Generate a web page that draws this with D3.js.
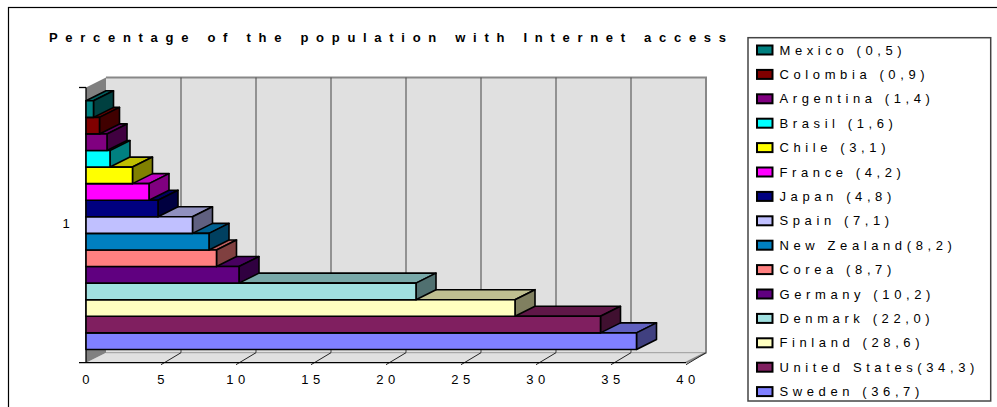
<!DOCTYPE html>
<html>
<head>
<meta charset="utf-8">
<script src="https://cdn.jsdelivr.net/npm/d3@7"></script>
<style>
  html, body { margin: 0; padding: 0; background: #fff; }
  svg { display: block; }
  text { font-family: "Liberation Sans", Arial, sans-serif; fill: #000; }
</style>
</head>
<body>
<svg id="chart" width="997" height="407"></svg>
<script>
// Share of population with Internet access, by country (top to bottom)
const countries = ["Mexico", "Colombia", "Argentina", "Brasil", "Chile", "France", "Japan",
  "Spain", "New Zealand", "Corea", "Germany", "Denmark", "Finland", "United States", "Sweden"];
const values = [0.5, 0.9, 1.4, 1.6, 3.1, 4.2, 4.8, 7.1, 8.2, 8.7, 10.2, 22.0, 28.6, 34.3, 36.7];
const colors = ["#008080", "#800000", "#800080", "#00ffff", "#ffff00", "#ff00ff", "#000080",
  "#c0c0ff", "#0080c0", "#ff8080", "#600080", "#a0e0e0", "#ffffc0", "#801f60", "#8080ff"];
const valueTicks = [0, 5, 10, 15, 20, 25, 30, 35, 40];
const categoryLabel = "1";
const title = "Percentage of the population with Internet access";

const svg = d3.select("#chart");

// plot frame (front plane) and 3D depth offset
const pLeft = 86, pRight = 686, pTop = 87.5, pBottom = 362.7;
const DX = 20, DY = -10;

const x = d3.scaleLinear().domain([0, 40]).range([pLeft, pRight]);
const y = d3.scaleBand().domain(countries).range([pTop, pBottom]).paddingInner(0).paddingOuter(0.8);

const shade = (c, k) => { const r = d3.rgb(c); return d3.rgb(r.r * k, r.g * k, r.b * k).formatHex(); };
const pts = a => a.map(p => p.join(",")).join(" ");

// outer frame
svg.append("rect").attr("x", 8.5).attr("y", 7.5).attr("width", 1000).attr("height", 420)
  .attr("fill", "#fff").attr("stroke", "#000").attr("stroke-width", 1.2);

// title
svg.append("text").attr("x", 49).attr("y", 41.7)
  .attr("font-size", 13).attr("font-weight", "bold")
  .attr("textLength", 677).attr("lengthAdjust", "spacing")
  .text(title);

// walls and floor
const g = svg.append("g");
g.append("polygon").attr("points", pts([[pLeft + DX, pTop + DY], [pRight + DX, pTop + DY], [pRight + DX, pBottom + DY], [pLeft + DX, pBottom + DY]]))
  .attr("fill", "#e0e0e0");
g.append("polygon").attr("points", pts([[pLeft, pBottom], [pRight, pBottom], [pRight + DX, pBottom + DY], [pLeft + DX, pBottom + DY]]))
  .attr("fill", "#e0e0e0");
g.append("polygon").attr("points", pts([[pLeft, pTop], [pLeft + DX, pTop + DY], [pLeft + DX, pBottom + DY], [pLeft, pBottom]]))
  .attr("fill", "#808080");

// wall edges
g.append("polyline").attr("points", pts([[pLeft + DX, pTop + DY], [pRight + DX, pTop + DY], [pRight + DX, pBottom + DY], [pRight, pBottom]]))
  .attr("fill", "none").attr("stroke", "#888").attr("stroke-width", 2);
g.append("line").attr("x1", pLeft + DX).attr("x2", pRight + DX).attr("y1", pBottom + DY).attr("y2", pBottom + DY)
  .attr("stroke", "#999").attr("stroke-width", 1);

// gridlines: back wall verticals and floor diagonals
const inner = valueTicks.filter(v => v > 0 && v < 40);
g.selectAll(".gv").data(inner).join("line")
  .attr("x1", d => x(d) + DX).attr("x2", d => x(d) + DX)
  .attr("y1", pTop + DY).attr("y2", pBottom + DY)
  .attr("stroke", "#444").attr("stroke-width", 1);
g.selectAll(".gf").data(valueTicks.filter(v => v > 0)).join("line")
  .attr("x1", d => x(d)).attr("y1", pBottom + 2)
  .attr("x2", d => x(d) + DX).attr("y2", pBottom + DY)
  .attr("stroke", "#222").attr("stroke-width", 1);

// axes
g.append("line").attr("x1", pLeft - 7).attr("x2", pRight).attr("y1", pBottom).attr("y2", pBottom)
  .attr("stroke", "#000").attr("stroke-width", 1.3);
g.append("line").attr("x1", pLeft).attr("x2", pLeft).attr("y1", pTop).attr("y2", pBottom)
  .attr("stroke", "#000").attr("stroke-width", 1.3);
g.append("line").attr("x1", pLeft - 7).attr("x2", pLeft).attr("y1", pTop).attr("y2", pTop)
  .attr("stroke", "#000").attr("stroke-width", 1.3);

// bars, drawn bottom-up so each upper bar hides the lower bar's top face
const rows = countries.map((c, i) => ({ c, v: values[i], col: colors[i] })).reverse();
const bars = svg.append("g").selectAll("g").data(rows).join("g");
const h = y.bandwidth();
bars.append("polygon")
  .attr("points", d => { const y0 = y(d.c), x1 = x(d.v);
    return pts([[pLeft, y0], [x1, y0], [x1 + DX, y0 + DY], [pLeft + DX, y0 + DY]]); })
  .attr("fill", d => shade(d.col, 0.75));
bars.append("polygon")
  .attr("points", d => { const y0 = y(d.c), x1 = x(d.v);
    return pts([[x1, y0], [x1 + DX, y0 + DY], [x1 + DX, y0 + h + DY], [x1, y0 + h]]); })
  .attr("fill", d => shade(d.col, 0.5));
bars.append("rect")
  .attr("x", pLeft).attr("y", d => y(d.c))
  .attr("width", d => x(d.v) - pLeft).attr("height", h)
  .attr("fill", d => d.col);
bars.selectAll("polygon, rect")
  .attr("stroke", "#000").attr("stroke-width", 1.6).attr("stroke-linejoin", "round");

// value axis labels
svg.append("g").selectAll("text").data(valueTicks).join("text")
  .attr("x", d => x(d) + 2).attr("y", 383.5)
  .attr("text-anchor", "middle").attr("font-size", 13).attr("letter-spacing", 4.5)
  .text(d => d);

// category label
svg.append("text").attr("x", 66).attr("y", 227.5)
  .attr("text-anchor", "middle").attr("font-size", 13).text(categoryLabel);

// legend
const lg = svg.append("g");
lg.append("rect").attr("x", 748).attr("y", 37.7).attr("width", 242.7).attr("height", 363.3)
  .attr("fill", "#fff").attr("stroke", "#444").attr("stroke-width", 1.5);
const fmt = v => d3.format(".1f")(v).replace(".", ",");
// two-word names run straight into the bracket
const label = (c, v) => c + (c.includes(" ") ? "" : " ") + "(" + fmt(v) + ")";
const items = lg.selectAll("g").data(countries.map((c, i) => ({ c, v: values[i], col: colors[i], i })))
  .join("g").attr("transform", d => `translate(0,${50 + d.i * 24.4})`);
items.append("rect").attr("x", 757).attr("y", -4.5).attr("width", 15.5).attr("height", 9)
  .attr("fill", d => d.col).attr("stroke", "#000").attr("stroke-width", 2);
items.append("text").attr("x", 779.5).attr("y", 4.6)
  .attr("font-size", 13).attr("letter-spacing", 4.6)
  .text(d => label(d.c, d.v));
</script>
</body>
</html>
